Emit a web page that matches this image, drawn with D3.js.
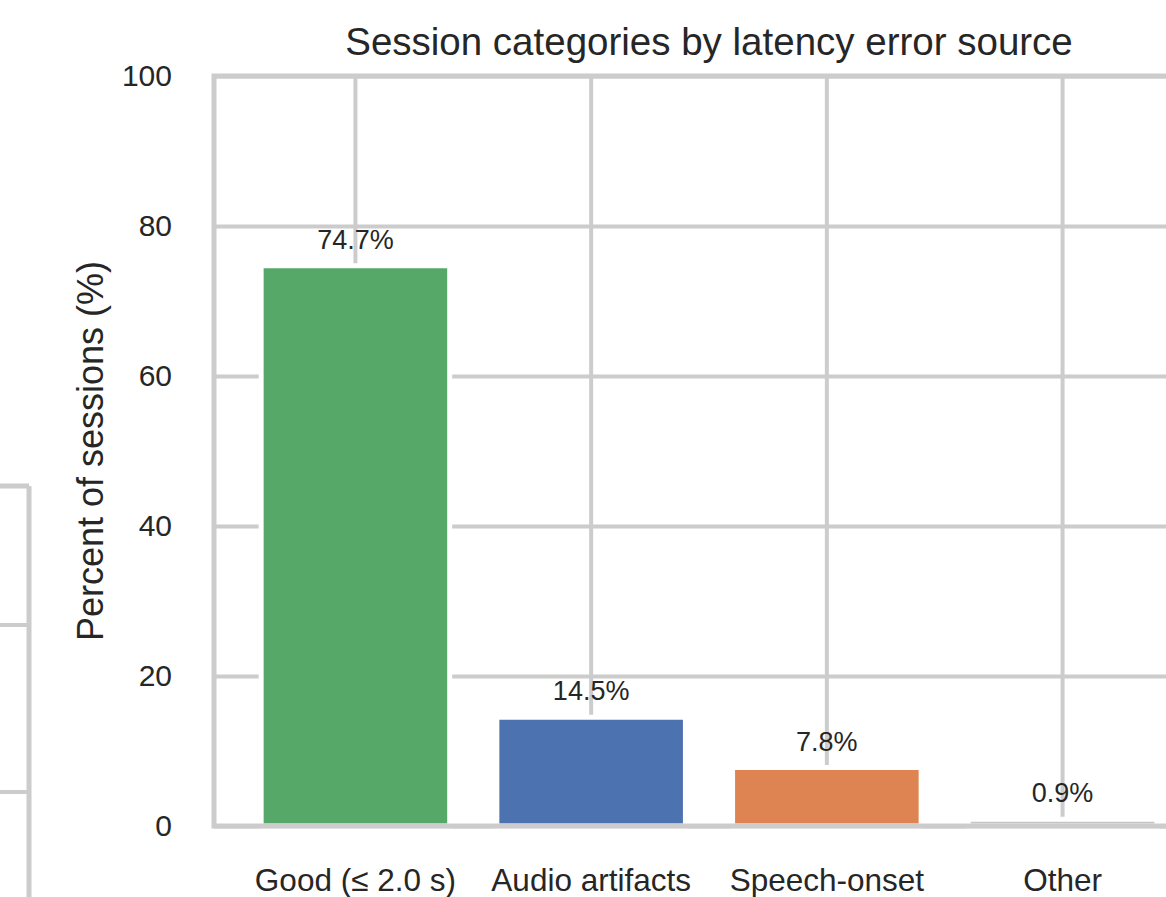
<!DOCTYPE html>
<html>
<head>
<meta charset="utf-8">
<script src="https://cdnjs.cloudflare.com/ajax/libs/d3/7.8.5/d3.min.js"></script>
<style>
  html, body { margin: 0; padding: 0; background: #ffffff; }
  svg { display: block; }
  text { font-family: "Liberation Sans", Arial, Helvetica, sans-serif; fill: #262626; }
</style>
</head>
<body>
<svg id="chart" width="1166" height="897"></svg>
<script>
const categories = ["Good (\u2264 2.0 s)", "Audio artifacts", "Speech-onset", "Other"];
const values = [74.7, 14.5, 7.8, 0.9];
const barLabels = ["74.7%", "14.5%", "7.8%", "0.9%"];
const colors = ["#55a868", "#4c72b0", "#dd8452", "#c4c4c4"];
const yTicks = [0, 20, 40, 60, 80, 100];
const title = "Session categories by latency error source";
const yLabel = "Percent of sessions (%)";

(function () {
const svg = d3.select("#chart");
const W = 1166, H = 897;
svg.append("rect").attr("width", W).attr("height", H).attr("fill", "#ffffff");

const pLeft = 214, pRight = 1204, pTop = 76, pBottom = 826;
const gridColor = "#cccccc";

// fragment of neighbouring panel on the far left
const frag = svg.append("g").attr("stroke", gridColor).attr("fill", "none");
const fy = d3.scaleLinear().domain([0, 1]).range([486, 900]);
frag.append("line").attr("x1", -10).attr("x2", 29).attr("y1", fy(0)).attr("y2", fy(0)).attr("stroke-width", 5);
frag.append("line").attr("x1", 29).attr("x2", 29).attr("y1", fy(0)).attr("y2", fy(1)).attr("stroke-width", 5);
[625, 792].forEach(v => frag.append("line").attr("x1", -10).attr("x2", 29).attr("y1", v).attr("y2", v).attr("stroke-width", 4));

const x = d3.scaleBand().domain(categories).range([pLeft, pRight]).paddingInner(0.2).paddingOuter(0.2);
const y = d3.scaleLinear().domain([0, 100]).range([pBottom, pTop]);

// grid
const gGrid = svg.append("g");
gGrid.append("g").attr("transform", `translate(${pLeft},0)`)
  .call(d3.axisLeft(y).tickValues(yTicks).tickSize(-(pRight - pLeft)).tickFormat(""))
  .call(g => g.select(".domain").remove())
  .call(g => g.selectAll("line").attr("stroke", gridColor).attr("stroke-width", 4));
gGrid.append("g").attr("transform", `translate(0,${pBottom})`)
  .call(d3.axisBottom(x).tickSize(-(pBottom - pTop)).tickFormat(""))
  .call(g => g.select(".domain").remove())
  .call(g => g.selectAll("line").attr("stroke", gridColor).attr("stroke-width", 4));

// bars
svg.append("g").selectAll("rect").data(values).join("rect")
  .attr("x", (d, i) => x(categories[i]))
  .attr("width", x.bandwidth())
  .attr("y", d => y(d))
  .attr("height", d => y(0) - y(d))
  .attr("fill", (d, i) => colors[i])
  .attr("stroke", "#ffffff")
  .attr("stroke-width", 5);

// spines
svg.append("rect").attr("x", pLeft).attr("y", pTop).attr("width", pRight - pLeft).attr("height", pBottom - pTop)
  .attr("fill", "none").attr("stroke", gridColor).attr("stroke-width", 5);

// bar labels
svg.append("g").selectAll("text").data(values).join("text")
  .attr("x", (d, i) => x(categories[i]) + x.bandwidth() / 2)
  .attr("y", d => y(d) - 17)
  .attr("text-anchor", "middle")
  .attr("font-size", 27)
  .text((d, i) => barLabels[i]);

// axes labels
svg.append("g").attr("transform", `translate(${pLeft},0)`)
  .call(d3.axisLeft(y).tickValues(yTicks).tickSize(0).tickPadding(42).tickFormat(d3.format("d")))
  .call(g => g.select(".domain").remove())
  .call(g => g.selectAll("text").attr("font-size", 30).attr("fill", "#262626").attr("font-family", "Liberation Sans, Arial, sans-serif"));

svg.append("g").attr("transform", `translate(0,${pBottom})`)
  .call(d3.axisBottom(x).tickSize(0).tickPadding(43))
  .call(g => g.select(".domain").remove())
  .call(g => g.selectAll("text").attr("font-size", 31.5).attr("fill", "#262626").attr("font-family", "Liberation Sans, Arial, sans-serif"));

// title
svg.append("text").attr("x", (pLeft + pRight) / 2).attr("y", 55)
  .attr("text-anchor", "middle").attr("font-size", 38.5).text(title);

// y label
svg.append("text").attr("transform", `translate(103,${(pTop + pBottom) / 2}) rotate(-90)`)
  .attr("text-anchor", "middle").attr("font-size", 36).text(yLabel);
})();
</script>
</body>
</html>
